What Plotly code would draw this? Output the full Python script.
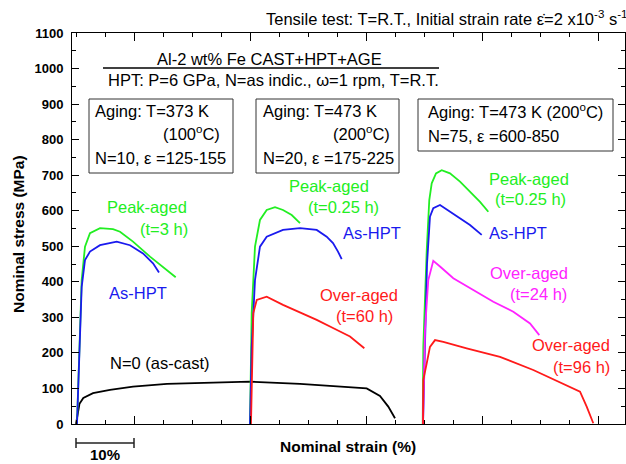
import plotly.graph_objects as go

# ---------------- data (strain %, nominal stress MPa) ----------------
cast_x = [0, 0.34, 0.6, 1.26, 2.93, 5.86, 9.83, 15.69, 21.38, 30.0, 38.62, 44.31, 50.12, 52.41, 53.84, 55.0]
cast_y = [0, 40, 57, 73, 87, 96, 105, 113, 116, 119, 113, 107, 100, 79, 49, 16]

n10_peak_x = [0.17, 0.5, 0.98, 1.55, 2.41, 4.14, 6.38, 7.59, 9.83, 12.76, 17.19]
n10_peak_y = [0, 180, 405, 499, 537, 551, 548, 541, 513, 471, 413]
n10_hpt_x = [0.17, 0.52, 0.98, 1.55, 2.41, 4.14, 7.02, 9.31, 11.55, 13.28, 14.31]
n10_hpt_y = [0, 150, 386, 461, 485, 503, 513, 503, 480, 452, 426]

n20_peak_x = [30.0, 30.29, 30.86, 31.72, 32.88, 34.31, 35.69, 37.19, 38.62]
n20_peak_y = [0, 312, 499, 574, 602, 610, 602, 588, 565]
n20_hpt_x = [30.0, 30.29, 30.86, 31.72, 32.88, 35.69, 38.62, 41.5, 43.22, 44.31, 45.17, 45.81]
n20_hpt_y = [0, 217, 405, 499, 527, 546, 551, 546, 527, 509, 485, 464]
n20_over_x = [30.17, 30.29, 30.57, 31.16, 32.88, 35.69, 38.62, 41.5, 44.31, 47.24, 49.71]
n20_over_y = [0, 124, 312, 349, 358, 335, 314, 293, 270, 246, 213]

n75_peak_x = [59.78, 59.88, 60.47, 60.91, 61.33, 62.07, 63.05, 64.48, 66.21, 67.93, 69.66, 71.09]
n75_peak_y = [0, 217, 489, 630, 677, 705, 714, 705, 682, 653, 625, 597]
n75_hpt_x = [59.83, 60.17, 60.52, 61.03, 61.6, 62.76, 64.48, 66.21, 67.93, 69.95]
n75_hpt_y = [0, 250, 450, 583, 607, 616, 597, 579, 560, 532]
n75_over24_x = [59.83, 60.17, 60.74, 61.6, 62.76, 65.05, 68.5, 71.95, 75.4, 78.28, 79.88]
n75_over24_y = [0, 264, 405, 459, 443, 410, 377, 344, 316, 283, 250]
n75_over96_x = [59.83, 59.88, 60.47, 61.03, 61.9, 63.33, 67.36, 73.1, 78.84, 84.6, 86.9, 88.05, 89.19]
n75_over96_y = [0, 124, 171, 217, 236, 231, 213, 189, 152, 110, 91, 49, 2]

y_ticks = list(range(0, 1101, 100))

GREEN = "#22ee22"
BLUE = "#1a1aee"
RED = "#ff1a1a"
MAG = "#ff22ff"
BLACK = "#000000"

# ---------------- layout geometry ----------------
W, H = 626, 464
L, R, T, B = 72, 1, 33, 40
PW, PH = W - L - R, H - T - B


def PX(px):
    return (px - L) / PW


def PY(py):
    return (H - B - py) / PH


fig = go.Figure()
series = [
    (cast_x, cast_y, BLACK),
    (n10_peak_x, n10_peak_y, GREEN), (n10_hpt_x, n10_hpt_y, BLUE),
    (n20_peak_x, n20_peak_y, GREEN), (n20_hpt_x, n20_hpt_y, BLUE), (n20_over_x, n20_over_y, RED),
    (n75_peak_x, n75_peak_y, GREEN), (n75_hpt_x, n75_hpt_y, BLUE),
    (n75_over24_x, n75_over24_y, MAG), (n75_over96_x, n75_over96_y, RED),
]
for xs, ys, c in series:
    fig.add_trace(go.Scatter(x=xs, y=ys, mode="lines", line=dict(color=c, width=1.8),
                             showlegend=False, hoverinfo="skip"))

FONT = "Arial, Liberation Sans, sans-serif"
FS = 16.5


def ann(text, px, py, color="black", xanchor="left", size=FS, bold=False):
    fig.add_annotation(text=text, x=PX(px), y=PY(py), xref="paper", yref="paper",
                       xanchor=xanchor, yanchor="middle", showarrow=False,
                       font=dict(family=FONT, size=size, color=color,
                                 weight="bold" if bold else "normal"))


# header texts
ann("Tensile test: T=R.T., Initial strain rate \u03b5\u0307=2 x10<sup>-3</sup> s<sup>-1</sup>", 629, 18, xanchor="right")
ann("Al-2 wt% Fe CAST+HPT+AGE", 269, 59, xanchor="center")
ann("HPT: P=6 GPa, N=as indic., \u03c9=1 rpm, T=R.T.", 273, 80, xanchor="center")
fig.add_shape(type="line", xref="paper", yref="paper", x0=PX(103), x1=PX(439), y0=PY(68), y1=PY(68),
              line=dict(color="black", width=1.5))

# boxes
for x0, x1, y0, y1 in [(89, 233, 99, 173), (256, 399, 99, 173), (418, 613, 99, 151)]:
    fig.add_shape(type="rect", xref="paper", yref="paper", x0=PX(x0), x1=PX(x1), y0=PY(y0), y1=PY(y1),
                  line=dict(color="#333333", width=1), fillcolor="rgba(0,0,0,0)")

ann("Aging: T=373 K", 93, 111)
ann("(100<sup>o</sup>C)", 222, 133, xanchor="right")
ann("N=10, \u03b5 =125-155", 93, 158)
ann("Aging: T=473 K", 261, 111)
ann("(200<sup>o</sup>C)", 392, 133, xanchor="right")
ann("N=20, \u03b5 =175-225", 261, 158)
ann("Aging: T=473 K (200<sup>o</sup>C)", 426, 111)
ann("N=75, \u03b5 =600-850", 426, 136)

# curve labels
ann("Peak-aged", 105, 207, GREEN)
ann("(t=3 h)", 190, 229, GREEN, xanchor="right")
ann("As-HPT", 107, 293, BLUE)
ann("N=0 (as-cast)", 108, 363)
ann("Peak-aged", 287, 186, GREEN)
ann("(t=0.25 h)", 381, 207, GREEN, xanchor="right")
ann("As-HPT", 341, 233, BLUE)
ann("Over-aged", 318, 295, RED)
ann("(t=60 h)", 395, 316, RED, xanchor="right")
ann("Peak-aged", 487, 179, GREEN)
ann("(t=0.25 h)", 568, 199, GREEN, xanchor="right")
ann("As-HPT", 487, 233, BLUE)
ann("Over-aged", 488, 273, MAG)
ann("(t=24 h)", 569, 294, MAG, xanchor="right")
ann("Over-aged", 530, 345, RED)
ann("(t=96 h)", 612, 367, RED, xanchor="right")

# axis titles
ann("Nominal strain (%)", 348, 446, xanchor="center", size=15.5, bold=True)
fig.add_annotation(text="Nominal stress (MPa)", x=PX(18), y=PY(234), xref="paper", yref="paper",
                   textangle=-90, showarrow=False, xanchor="center", yanchor="middle",
                   font=dict(family=FONT, size=15.5, color="black", weight="bold"))

# scale bar (10 % strain)
SCALE_START, SCALE_LEN = 0, 10
fig.add_shape(type="line", xref="x", yref="paper", x0=SCALE_START, x1=SCALE_START + SCALE_LEN,
              y0=PY(443), y1=PY(443), line=dict(color="#222222", width=1.5))
for xv in (SCALE_START, SCALE_START + SCALE_LEN):
    fig.add_shape(type="line", xref="x", yref="paper", x0=xv, x1=xv, y0=PY(438), y1=PY(448),
                  line=dict(color="#222222", width=1.5))
fig.add_annotation(text="10%", x=SCALE_START + SCALE_LEN / 2, y=PY(455), xref="x", yref="paper",
                   showarrow=False, xanchor="center", yanchor="middle",
                   font=dict(family=FONT, size=15, color="black", weight="bold"))

PX_PER_PCT = 5.8
x_lo = (L - 76) / PX_PER_PCT
x_hi = (L + PW - 76) / PX_PER_PCT

fig.update_layout(
    width=W, height=H, margin=dict(l=L, r=R, t=T, b=B, pad=0, autoexpand=False),
    plot_bgcolor="white", paper_bgcolor="white",
    xaxis=dict(range=[x_lo, x_hi], showticklabels=False, showgrid=False, zeroline=False,
               showline=True, linecolor="black", linewidth=1, mirror="ticks",
               ticks="inside", tick0=10, dtick=20, ticklen=8, tickcolor="black", automargin=False,
               minor=dict(ticks="inside", tick0=0, dtick=5, ticklen=4, tickcolor="black")),
    yaxis=dict(range=[0, 1100], tickvals=y_ticks, showgrid=False, zeroline=False,
               showline=True, linecolor="black", linewidth=1, mirror="ticks",
               ticks="inside", ticklen=7, tickcolor="black", automargin=False,
               ticklabelstandoff=5,
               minor=dict(ticks="inside", dtick=50, ticklen=4, tickcolor="black"),
               tickfont=dict(family=FONT, size=13, color="black", weight="bold")),
)

fig.write_html("out.html", config={"displayModeBar": False},
               post_script="document.body.style.margin='0px';")
